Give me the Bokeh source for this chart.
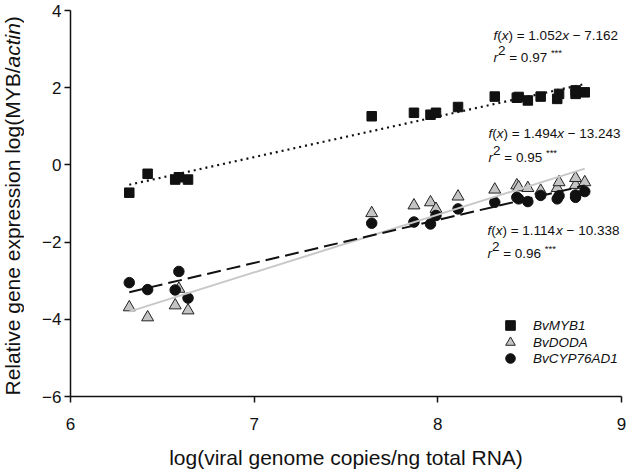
import math
from bokeh.plotting import figure
from bokeh.layouts import row
from bokeh.models import Range1d, FixedTicker, Label, Legend, LegendItem
from bokeh.embed import file_html
from bokeh.resources import INLINE

# ---------------- data ----------------
virus_log = [6.32, 6.42, 6.57, 6.59, 6.64, 7.64, 7.87, 7.96, 7.99, 8.11,
             8.31, 8.43, 8.44, 8.49, 8.56, 8.65, 8.66, 8.75, 8.75, 8.80]
myb1 = [-0.72, -0.23, -0.38, -0.32, -0.38, 1.26, 1.35, 1.30, 1.35, 1.50,
        1.77, 1.74, 1.76, 1.67, 1.77, 1.71, 1.84, 1.84, 1.93, 1.88]
doda = [-3.69, -3.95, -3.64, -3.21, -3.77, -1.25, -1.05, -0.97, -1.14, -0.82,
        -0.64, -0.53, -0.58, -0.60, -0.67, -0.60, -0.45, -0.52, -0.34, -0.45]
cyp = [-3.05, -3.23, -3.24, -2.76, -3.45, -1.51, -1.48, -1.53, -1.31, -1.14,
       -0.97, -0.84, -0.88, -0.95, -0.79, -0.88, -0.80, -0.84, -0.78, -0.69]
series_names = ["BvMYB1", "BvDODA", "BvCYP76AD1"]
slopes = [1.052, 1.494, 1.114]
intercepts = [-7.162, -13.243, -10.338]
r2_values = [0.97, 0.95, 0.96]
x_ticks = [6, 7, 8, 9]
y_ticks = [-6, -4, -2, 0, 2, 4]
y_tick_labels = ["\u22126", "\u22124", "\u22122", "0", "2", "4"]
x_title = "log(viral genome copies/ng total RNA)"
y_title_parts = ["Relative gene expression log(MYB/", "actin", ")"]

# ---------------- layout / style ----------------
FONT = "Liberation Sans"
INK = "#111111"
ann_x = [8.303, 8.276, 8.270]
ann_y_eq = [3.352, 0.813, -1.699]
ann_y_r2 = [2.782, 0.192, -2.295]
legend_x = 428
legend_y = [59, 42, 26]

W = {" ": 278, "(": 333, ")": 333, "/": 278, "=": 584, "\u2212": 584, ".": 278,
     "*": 389, "-": 333}
for d in "0123456789":
    W[d] = 556
W.update(dict(zip("abcdefghijklmnopqrstuvwxyz",
                  [556, 556, 500, 556, 556, 278, 556, 556, 222, 222, 500, 222, 833,
                   556, 556, 556, 556, 333, 500, 278, 556, 500, 722, 500, 500, 500])))
W.update(dict(zip("ABCDEFGHIJKLMNOPQRSTUVWXYZ",
                  [667, 667, 722, 722, 667, 611, 778, 722, 278, 500, 667, 556, 833,
                   722, 778, 667, 778, 722, 667, 611, 722, 667, 944, 667, 667, 611])))


def tw(s, size):
    return sum(W.get(c, 556) for c in s) / 1000.0 * size


def rich(fig, x, y, pieces, angle=0.0, base=0.0):
    off = base
    for text, style, size, rise in pieces:
        lead = len(text) - len(text.lstrip(" "))
        start = off + lead * W[" "] / 1000.0 * size
        kw = dict(x=x, y=y, text=text.strip(" "), text_font=FONT,
                  text_font_size=f"{size}px", text_font_style=style,
                  text_color=INK, text_baseline="alphabetic",
                  text_align="left", angle=angle)
        if angle == 0:
            kw.update(x_offset=start, y_offset=rise)
        else:
            kw.update(x_offset=-rise, y_offset=start)
        fig.add_layout(Label(**kw))
        off += tw(text, size)


H = 475
TOTAL_W = 630
TW = 24          # strip that holds the vertical axis title
BORDER_TOP = 10
BORDER_BOTTOM = 79

p = figure(width=TOTAL_W - TW, height=H, output_backend="svg", toolbar_location=None,
           x_range=Range1d(6, 9), y_range=Range1d(-6, 4),
           min_border_left=70 - TW, min_border_right=9, min_border_top=BORDER_TOP,
           min_border_bottom=BORDER_BOTTOM)
p.outline_line_color = None
p.grid.visible = False

for ax in (p.xaxis[0], p.yaxis[0]):
    ax.axis_line_width = 1.5
    ax.axis_line_color = INK
    ax.major_tick_line_width = 1.5
    ax.major_tick_line_color = INK
    ax.major_tick_in = 0
    ax.major_tick_out = 6
    ax.minor_tick_line_color = None
    ax.major_label_text_font = FONT
    ax.major_label_text_font_size = "17px"
    ax.major_label_text_color = INK

p.xaxis.ticker = FixedTicker(ticks=x_ticks)
p.yaxis.ticker = FixedTicker(ticks=y_ticks)
p.yaxis.major_label_overrides = {t: l for t, l in zip(y_ticks, y_tick_labels)}
p.xaxis.major_label_standoff = 15
p.yaxis.major_label_standoff = 3
p.xaxis.axis_label = x_title
p.xaxis.axis_label_text_font = FONT
p.xaxis.axis_label_text_font_size = "21px"
p.xaxis.axis_label_text_font_style = "normal"
p.xaxis.axis_label_text_color = INK
p.xaxis.axis_label_standoff = 13

# markers
r_myb = p.scatter(virus_log, myb1, marker="square", size=9.5, fill_color=INK,
                  line_color=INK)
r_doda = p.scatter(virus_log, doda, marker="triangle", size=12, fill_color="#c4c4c4",
                   line_color="#222222", line_width=1)
r_cyp = p.scatter(virus_log, cyp, marker="circle", size=10.5, fill_color=INK,
                  line_color=INK)

# regression lines
x_fit = [min(virus_log), max(virus_log)]
styles = [dict(line_color=INK, line_width=2.2, line_dash="2 4"),
          dict(line_color="#c8c8c8", line_width=2),
          dict(line_color=INK, line_width=2, line_dash="14 6")]
for m, b, st in zip(slopes, intercepts, styles):
    p.line(x_fit, [m * xv + b for xv in x_fit], **st)

FS = 13.5
for m, b, r2, ax_, ey, ry in zip(slopes, intercepts, r2_values, ann_x, ann_y_eq, ann_y_r2):
    sign = "\u2212" if b < 0 else "+"
    rich(p, ax_, ey, [("f", "italic", FS, 0), ("(", "normal", FS, 0), ("x", "italic", FS, 0),
                      (f") = {m:.3f}", "normal", FS, 0), ("x", "italic", FS, 0),
                      (f" {sign} {abs(b):.3f}", "normal", FS, 0)])
    rich(p, ax_, ry, [("r", "italic", FS, 0), ("2", "normal", FS, 7),
                      (f" = {r2:.2f} ", "normal", FS, 0), ("***", "normal", 9.5, 5)])

# legend: one small legend per series so the rows can sit close together
for name, rend, ly in zip(series_names, [r_myb, r_doda, r_cyp], legend_y):
    lg = Legend(items=[LegendItem(label=name, renderers=[rend])],
                location=(legend_x, ly), border_line_color=None, background_fill_alpha=0,
                label_text_font=FONT, label_text_font_style="italic",
                label_text_font_size="13.5px", label_text_color=INK,
                glyph_width=24, glyph_height=24, padding=0, margin=0,
                label_standoff=11, label_height=16)
    p.add_layout(lg)

# vertical axis title strip (mixed upright / italic text), same vertical frame as p
t = figure(width=TW, height=H, output_backend="svg", toolbar_location=None,
           x_range=Range1d(0, TW), y_range=Range1d(-6, 4),
           x_axis_location=None, y_axis_location=None,
           min_border_left=0, min_border_right=0, min_border_top=BORDER_TOP,
           min_border_bottom=BORDER_BOTTOM)
t.outline_line_color = None
t.grid.visible = False
rich(t, 11.5, -6, [(y_title_parts[0], "normal", 21, 0), (y_title_parts[1], "italic", 21, 0),
                   (y_title_parts[2], "normal", 21, 0)], angle=math.pi / 2, base=1.0)

layout = row(t, p)
open("out.html", "w").write(file_html(layout, INLINE))
